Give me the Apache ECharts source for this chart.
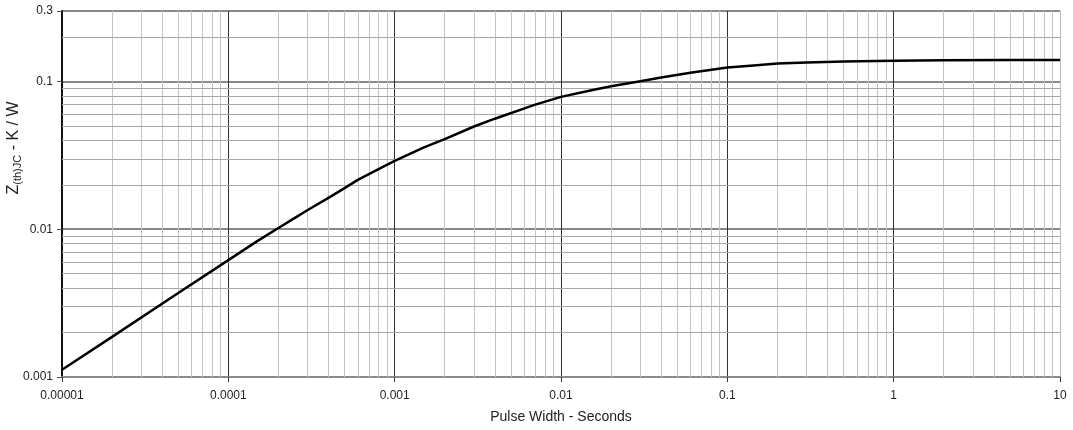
<!DOCTYPE html>
<html>
<head>
<meta charset="utf-8">
<title>Transient Thermal Impedance</title>
<script src="https://cdn.jsdelivr.net/npm/echarts@6/dist/echarts.min.js"></script>
<style>
  html, body { margin: 0; padding: 0; background: #fff; }
  #chart { width: 1073px; height: 430px; }
</style>
</head>
<body>
<div id="chart"></div>
<script>
// Pulse width (s) and junction-to-case thermal impedance Z(th)JC (K/W)
const pulseWidth = [0.00001, 0.00002, 0.00005, 0.0001, 0.00015, 0.0002, 0.00025, 0.0003, 0.0004,
  0.0005, 0.0006, 0.0008, 0.001, 0.0015, 0.002, 0.003, 0.004, 0.007, 0.01, 0.015, 0.02, 0.03,
  0.04, 0.06, 0.1, 0.15, 0.2, 0.3, 0.5, 1, 2, 5, 10];
const zthJC = [0.00112, 0.00187, 0.0037, 0.00618, 0.00834, 0.0102, 0.0119, 0.0135, 0.0163,
  0.019, 0.0216, 0.0255, 0.0290, 0.0358, 0.0407, 0.0496, 0.0560, 0.0697, 0.0787, 0.0870, 0.0930, 0.1005,
  0.1065, 0.1146, 0.1245, 0.1290, 0.1322, 0.1345, 0.1365, 0.1380, 0.1390, 0.1396, 0.1397];

// Axis tick values and their printed labels
const xTickValues = [0.00001, 0.0001, 0.001, 0.01, 0.1, 1, 10];
const xTickLabels = ['0.00001', '0.0001', '0.001', '0.01', '0.1', '1', '10'];
const yTickValues = [0.001, 0.01, 0.1, 0.3];
const yTickLabels = ['0.001', '0.01', '0.1', '0.3'];

// Minor grid positions (2..9 within each decade)
const xMinorGrid = [];
for (let d = -5; d <= 0; d++) {
  for (let k = 2; k <= 9; k++) xMinorGrid.push(+(k * Math.pow(10, d)).toPrecision(3));
}
const yMinorGrid = [];
for (let d = -3; d <= -2; d++) {
  for (let k = 2; k <= 9; k++) yMinorGrid.push(+(k * Math.pow(10, d)).toPrecision(3));
}
yMinorGrid.push(0.2);

function lookupLabel(values, labels, v) {
  let best = 0, bestErr = Infinity;
  for (let i = 0; i < values.length; i++) {
    const e = Math.abs(Math.log10(v) - Math.log10(values[i]));
    if (e < bestErr) { bestErr = e; best = i; }
  }
  return bestErr < 0.01 ? labels[best] : '';
}

const FONT = '"Liberation Sans", Arial, sans-serif';
const chart = echarts.init(document.getElementById('chart'), null, { renderer: 'canvas' });

chart.setOption({
  animation: false,
  backgroundColor: '#ffffff',
  grid: { left: 62, right: 13, top: 11, bottom: 53, outerBoundsMode: 'none', containLabel: false },
  xAxis: {
    type: 'log',
    logBase: 10,
    min: 0.00001,
    max: 10,
    name: 'Pulse Width - Seconds',
    nameLocation: 'middle',
    nameGap: 33,
    nameMoveOverlap: false,
    nameTextStyle: { fontFamily: FONT, fontSize: 14, color: '#222' },
    axisLine: { show: true, lineStyle: { color: '#8a8a8a', width: 2 } },
    axisTick: { show: true, inside: false, length: 5, lineStyle: { color: '#333', width: 1 } },
    axisLabel: {
      fontFamily: FONT, fontSize: 12, color: '#222', margin: 13,
      formatter: v => lookupLabel(xTickValues, xTickLabels, v)
    },
    splitLine: {
      show: true,
      lineStyle: { color: ['#333', '#333', '#333', '#333', '#333', '#333', '#bdbdbd'], width: 1 }
    },
    minorTick: { show: false },
    minorSplitLine: { show: false }
  },
  yAxis: {
    type: 'log',
    logBase: 10,
    min: 0.001,
    max: 0.3,
    name: '{a|Z}{s|(th)JC}{a| - K / W}',
    nameLocation: 'middle',
    nameGap: 39,
    nameRotate: 90,
    nameMoveOverlap: false,
    nameTextStyle: {
      fontFamily: FONT, color: '#222',
      padding: [0, 0, 0, 92],
      rich: {
        a: { fontFamily: FONT, fontSize: 16, color: '#222' },
        s: { fontFamily: FONT, fontSize: 11, color: '#222', verticalAlign: 'bottom', padding: [7, 0, 0, 0] }
      }
    },
    axisLine: { show: true, lineStyle: { color: '#111', width: 2 } },
    axisTick: { show: true, inside: false, length: 5, lineStyle: { color: '#555', width: 1 } },
    axisLabel: {
      fontFamily: FONT, fontSize: 12, color: '#222', margin: 9,
      formatter: v => lookupLabel(yTickValues, yTickLabels, v)
    },
    splitLine: { show: true, lineStyle: { color: '#8a8a8a', width: 2 } }
  },
  series: [
    {
      // minor grid lines drawn through the log axes
      type: 'line',
      data: [],
      z: 1,
      silent: true,
      markLine: {
        silent: true,
        precision: 12,
        symbol: ['none', 'none'],
        label: { show: false },
        emphasis: { disabled: true },
        animation: false,
        data: [
          ...xMinorGrid.map(v => ({ xAxis: v, lineStyle: { color: '#c4c4c4', width: 1, type: 'solid' } })),
          ...yMinorGrid.map(v => ({ yAxis: v, lineStyle: { color: '#a8a8a8', width: 1, type: 'solid' } }))
        ]
      }
    },
    {
      name: 'Z(th)JC',
      type: 'line',
      z: 5,
      data: pulseWidth.map((t, i) => [t, zthJC[i]]),
      showSymbol: false,
      smooth: false,
      lineStyle: { color: '#000', width: 2.5, join: 'round' }
    }
  ]
});
</script>
</body>
</html>
